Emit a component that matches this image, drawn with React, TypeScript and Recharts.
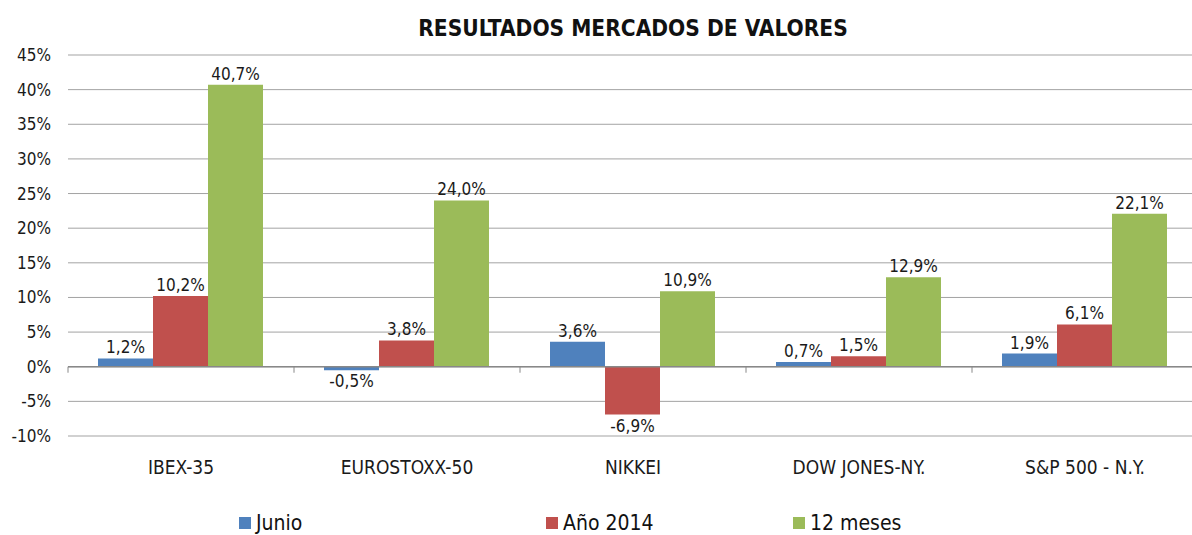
import {
  BarChart,
  Bar,
  XAxis,
  YAxis,
  CartesianGrid,
  ReferenceLine,
  LabelList,
  Legend,
} from 'recharts';

const categories = ['IBEX-35', 'EUROSTOXX-50', 'NIKKEI', 'DOW JONES-NY.', 'S&P 500 - N.Y.'];
const junio = [1.2, -0.5, 3.6, 0.7, 1.9];
const ano2014 = [10.2, 3.8, -6.9, 1.5, 6.1];
const doceMeses = [40.7, 24.0, 10.9, 12.9, 22.1];
const yTicks = [-10, -5, 0, 5, 10, 15, 20, 25, 30, 35, 40, 45];

const series = [
  { key: 'junio', name: 'Junio', color: '#4F81BD' },
  { key: 'ano', name: 'Año 2014', color: '#C0504D' },
  { key: 'doce', name: '12 meses', color: '#9BBB59' },
];

const data = categories.map((c, i) => ({
  name: c,
  junio: junio[i],
  ano: ano2014[i],
  doce: doceMeses[i],
}));

const FONT = "'Liberation Sans Narrow', 'DejaVu Sans Condensed', sans-serif";
const W = 1198;
const H = 535;
const M = { top: 55, right: 0, bottom: 0, left: 0 };
const Y_AXIS_W = 68;
const LEGEND_H = 25;
const X_AXIS_H = 74;
const Y_MIN = -10;
const Y_MAX = 45;
const LEGEND_X = [239, 546, 793];

const plotH = H - M.top - M.bottom - X_AXIS_H - LEGEND_H;
const plotW = W - M.left - M.right - Y_AXIS_W;
const band = plotW / categories.length;
const zeroY = M.top + (plotH * Y_MAX) / (Y_MAX - Y_MIN);

const fmt = (v: number) => v.toFixed(1).replace('.', ',') + '%';

function CategoryTick(props: any) {
  const { x, y, payload } = props;
  const bx = x - band / 2;
  return (
    <g>
      <line x1={bx} x2={bx} y1={zeroY} y2={zeroY + 6} stroke="#888" />
      <text
        x={x}
        y={y + 30}
        textAnchor="middle"
        fontFamily={FONT}
        fontSize={19}
        fill="#1a1a1a"
      >
        {payload.value}
      </text>
    </g>
  );
}

function ValueLabel(props: any) {
  const { x, y, width, height, value } = props;
  const top = Math.min(y, y + height);
  const bottom = Math.max(y, y + height);
  const neg = value < 0;
  return (
    <text
      x={x + width / 2}
      y={neg ? bottom + 17 : top - 5}
      textAnchor="middle"
      fontFamily={FONT}
      fontSize={17}
      fill="#1a1a1a"
    >
      {fmt(value)}
    </text>
  );
}

function LegendBox() {
  return (
    <div style={{ position: 'relative', height: LEGEND_H, fontFamily: FONT }}>
      {series.map((s, i) => (
        <div
          key={s.key}
          style={{
            position: 'absolute',
            left: LEGEND_X[i],
            top: 1,
            display: 'flex',
            alignItems: 'center',
            fontSize: 21,
            color: '#111',
            whiteSpace: 'nowrap',
          }}
        >
          <span
            style={{
              width: 12,
              height: 12,
              background: s.color,
              display: 'inline-block',
              marginRight: 5,
            }}
          />
          {s.name}
        </div>
      ))}
    </div>
  );
}

export default function App() {
  return (
    <div
      style={{
        position: 'absolute',
        left: 0,
        top: 0,
        width: 1192,
        height: 535,
        overflow: 'hidden',
        background: '#fff',
      }}
    >
      <div
        style={{
          position: 'absolute',
          top: 15,
          left: 68,
          width: plotW,
          textAlign: 'center',
          fontFamily: FONT,
          fontWeight: 'bold',
          fontSize: 22.5,
          color: '#111',
        }}
      >
        RESULTADOS MERCADOS DE VALORES
      </div>
      <BarChart
        width={W}
        height={H}
        data={data}
        margin={M}
        barCategoryGap={30}
        barGap={0}
      >
        <CartesianGrid vertical={false} stroke="#a3a3a3" />
        <XAxis
          dataKey="name"
          axisLine={false}
          tickLine={false}
          height={X_AXIS_H}
          tick={<CategoryTick />}
          interval={0}
        />
        <YAxis
          width={Y_AXIS_W}
          domain={[Y_MIN, Y_MAX]}
          ticks={yTicks}
          allowDataOverflow
          axisLine={false}
          tickLine={false}
          tickSize={0}
          tickMargin={17}
          tickFormatter={(v: number) => `${v}%`}
          tick={{ fontFamily: FONT, fontSize: 17, fill: '#1a1a1a' }}
        />
        <Legend
          verticalAlign="bottom"
          content={() => <LegendBox />}
          wrapperStyle={{ height: LEGEND_H }}
        />
        {series.map((s) => (
          <Bar key={s.key} dataKey={s.key} name={s.name} fill={s.color} isAnimationActive={false}>
            <LabelList dataKey={s.key} content={<ValueLabel />} />
          </Bar>
        ))}
        <ReferenceLine y={0} stroke="#888" strokeWidth={1.5} />
      </BarChart>
    </div>
  );
}
